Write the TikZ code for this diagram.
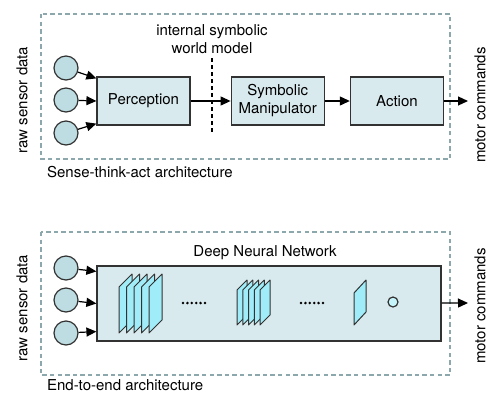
\documentclass[tikz,border=0pt]{standalone}
\usepackage{fontspec}
\setmainfont{TeX Gyre Heros}
\usetikzlibrary{positioning, arrows.meta}
\definecolor{boxFill}{RGB}{217, 234, 238}
\definecolor{sensorFill}{RGB}{190, 221, 226}
\definecolor{mapFill}{RGB}{160, 236, 248}
\definecolor{frameColor}{RGB}{140, 168, 172}
\definecolor{lineColor}{RGB}{50, 50, 50}
\tikzset{
    arch_frame/.style={
        draw=frameColor,
        line width=0.7pt,
        dash pattern=on 2.2pt off 1.6pt
    },
    proc_box/.style={
        draw=lineColor,
        fill=boxFill,
        line width=0.6pt,
        minimum width=46.5pt,
        minimum height=24pt,
        inner sep=0pt,
        align=center
    },
    sensor_node/.style={
        circle,
        draw=lineColor,
        fill=sensorFill,
        line width=0.6pt,
        minimum size=12pt,
        inner sep=0pt
    },
    flow_edge/.style={
        -{Triangle[length=5pt,width=4.5pt]},
        line width=0.6pt,
        draw=black
    },
    side_label/.style={
        rotate=90,
        inner sep=0pt
    },
    feature_map/.style={
        draw=lineColor,
        fill=mapFill,
        line width=0.5pt,
        line join=round
    }
}

\begin{document}
\begin{tikzpicture}[x=0.5pt, y=-0.5pt, font=\fontsize{7.5}{9}\selectfont]
    \useasboundingbox (0,0) rectangle (488,392);

    % sense-think-act
    \draw[arch_frame] (41,14) rectangle (450,159);
    \node[side_label] (raw1) at (22,100) {raw sensor data};
    \node[side_label] (motor1) at (480,105) {motor commands};

    \node[sensor_node] (s1) at (66,68) {};
    \node[sensor_node] (s2) at (66,100) {};
    \node[sensor_node] (s3) at (66,133) {};

    \node[proc_box] (perc) at (143.5,101) {Perception};
    \node[proc_box, right=20pt of perc] (symb) {Symbolic\\Manipulator};
    \node[proc_box, right=12.5pt of symb] (act) {Action};

    \node[align=center] (wmlbl) at (212,39) {internal symbolic\\world model};
    \coordinate (wmtop) at (212,58);
    \coordinate (wmbot) at (212,135);
    \draw[line width=0.6pt, dash pattern=on 2pt off 1.5pt] (wmtop) -- (wmbot);

    \coordinate (out1) at (468,101);
    \draw[flow_edge] (s1) -- ([yshift=-1pt]perc.north west);
    \draw[flow_edge] (s2) -- (perc.west);
    \draw[flow_edge] (s3) -- ([yshift=1pt]perc.south west);
    \draw[flow_edge] (perc) -- (symb);
    \draw[flow_edge] (symb) -- (act);
    \draw[flow_edge] (act) -- (out1);

    \node[anchor=west] (stalbl) at (40,172) {Sense-think-act architecture};

    % end-to-end
    \draw[arch_frame] (41,232) rectangle (450,375);
    \node[side_label] (raw2) at (22,308) {raw sensor data};
    \node[side_label] (motor2) at (480,306) {motor commands};

    \node[sensor_node] (t1) at (66,268) {};
    \node[sensor_node] (t2) at (66,300) {};
    \node[sensor_node] (t3) at (66,333) {};

    \node[proc_box, minimum width=172pt, minimum height=37.5pt] (dnn) at (269,303.5) {};
    \node (dnnlbl) at (265,253) {Deep Neural Network};

    \foreach \i in {0,...,4}
        \draw[feature_map] ({119+7.5*\i},333) -- ++(0,-46) -- ++(13,-13) -- ++(0,46) -- cycle;
    \foreach \i in {0,...,4}
        \draw[feature_map] ({237+5.75*\i},325) -- ++(0,-35) -- ++(10,-10) -- ++(0,35) -- cycle;
    \draw[feature_map] (354,325) -- ++(0,-32) -- ++(12,-13) -- ++(0,32) -- cycle;
    \foreach \k in {0,...,5} {
        \fill ({183+4.4*\k},303) circle (0.7pt);
        \fill ({301+4.4*\k},303) circle (0.7pt);
    }
    \node[sensor_node, minimum size=5pt, fill=mapFill!60!white] (unit) at (393,302) {};

    \coordinate (out2) at (468,303);
    \draw[flow_edge] (t1) -- ([yshift=-3pt]dnn.north west);
    \draw[flow_edge] (t2) -- (dnn.west);
    \draw[flow_edge] (t3) -- ([yshift=5pt]dnn.south west);
    \draw[flow_edge] (dnn) -- (out2);

    \node[anchor=west] (e2elbl) at (40,385) {End-to-end architecture};
\end{tikzpicture}
\end{document}
